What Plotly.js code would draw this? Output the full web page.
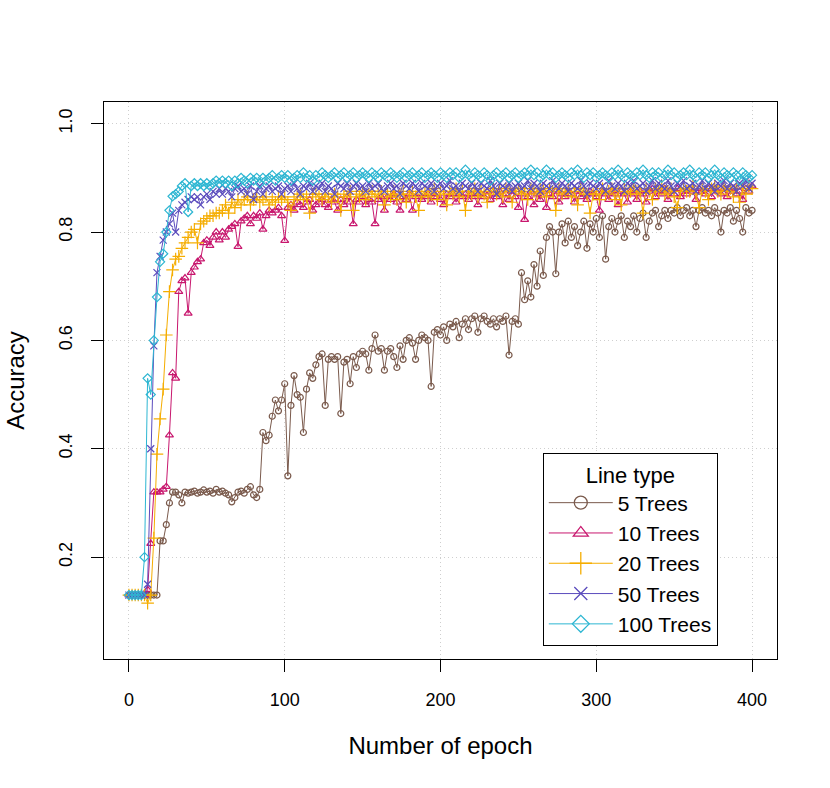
<!DOCTYPE html>
<html>
<head>
<meta charset="utf-8">
<script src="https://cdn.plot.ly/plotly-3.0.1.min.js"></script>
<style>
  html, body { margin: 0; padding: 0; background: #fff; }
  #chart { width: 830px; height: 788px; }
</style>
</head>
<body>
<div id="chart"></div>
<script>
// accuracy sampled every 2 epochs (0, 2, ..., 400)
const epochs = Array.from({ length: 201 }, (_, i) => i * 2);

const seriesNames = ['5 Trees', '10 Trees', '20 Trees', '50 Trees', '100 Trees'];

const acc5 = [
  0.13,0.13,0.13,0.13,0.13,0.13,0.13,0.13,0.13,0.13,
  0.23,0.23,0.26,0.30,0.32,0.32,0.315,0.30,0.32,0.318,
  0.32,0.322,0.318,0.32,0.324,0.32,0.322,0.318,0.325,0.32,
  0.322,0.318,0.315,0.302,0.31,0.32,0.322,0.318,0.325,0.33,
  0.315,0.31,0.325,0.43,0.415,0.425,0.46,0.49,0.47,0.49,
  0.52,0.35,0.48,0.535,0.50,0.495,0.43,0.51,0.54,0.53,
  0.555,0.57,0.575,0.48,0.565,0.57,0.565,0.57,0.465,0.56,
  0.565,0.52,0.57,0.55,0.575,0.58,0.575,0.545,0.585,0.61,
  0.58,0.585,0.545,0.58,0.585,0.57,0.55,0.59,0.565,0.60,
  0.605,0.595,0.565,0.60,0.61,0.605,0.60,0.515,0.615,0.62,
  0.61,0.625,0.60,0.63,0.625,0.635,0.605,0.63,0.64,0.62,
  0.64,0.645,0.615,0.64,0.645,0.635,0.63,0.64,0.625,0.64,
  0.635,0.645,0.573,0.635,0.64,0.63,0.725,0.675,0.71,0.68,
  0.74,0.70,0.765,0.72,0.79,0.81,0.80,0.723,0.80,0.815,
  0.78,0.82,0.79,0.81,0.775,0.80,0.82,0.77,0.815,0.80,
  0.825,0.79,0.83,0.75,0.81,0.825,0.80,0.82,0.83,0.79,
  0.82,0.81,0.83,0.80,0.825,0.835,0.79,0.82,0.835,0.84,
  0.81,0.83,0.84,0.825,0.84,0.835,0.845,0.83,0.84,0.845,
  0.83,0.84,0.81,0.84,0.845,0.835,0.84,0.83,0.845,0.835,
  0.80,0.84,0.835,0.845,0.82,0.84,0.825,0.80,0.845,0.835,
  0.84
];

const acc10 = [
  0.13,0.13,0.13,0.13,0.13,0.13,0.14,0.225,0.32,0.32,
  0.32,0.325,0.33,0.425,0.54,0.53,0.69,0.71,0.715,0.65,
  0.725,0.735,0.745,0.75,0.78,0.785,0.775,0.79,0.80,0.785,
  0.80,0.79,0.805,0.81,0.815,0.773,0.82,0.825,0.83,0.815,
  0.83,0.825,0.835,0.805,0.83,0.84,0.835,0.84,0.845,0.83,
  0.784,0.845,0.85,0.84,0.855,0.85,0.845,0.855,0.86,0.84,
  0.85,0.855,0.86,0.85,0.845,0.86,0.855,0.84,0.86,0.85,
  0.865,0.855,0.815,0.86,0.855,0.865,0.85,0.86,0.855,0.815,
  0.86,0.865,0.84,0.865,0.86,0.87,0.855,0.84,0.865,0.86,
  0.87,0.84,0.865,0.87,0.86,0.865,0.87,0.855,0.865,0.87,
  0.86,0.85,0.87,0.865,0.87,0.855,0.87,0.865,0.87,0.86,
  0.87,0.865,0.85,0.87,0.865,0.875,0.86,0.87,0.865,0.875,
  0.85,0.87,0.86,0.875,0.865,0.845,0.87,0.823,0.865,0.875,
  0.85,0.87,0.86,0.875,0.845,0.87,0.865,0.875,0.855,0.87,
  0.865,0.875,0.87,0.855,0.875,0.865,0.87,0.86,0.875,0.87,
  0.865,0.84,0.875,0.87,0.86,0.875,0.87,0.85,0.875,0.87,
  0.855,0.875,0.87,0.86,0.875,0.87,0.855,0.875,0.88,0.865,
  0.875,0.87,0.88,0.86,0.875,0.87,0.88,0.865,0.875,0.87,
  0.88,0.875,0.86,0.88,0.875,0.87,0.88,0.865,0.88,0.875,
  0.87,0.88,0.865,0.875,0.88,0.87,0.875,0.86,0.88,0.875,
  0.885
];

const acc20 = [
  0.13,0.13,0.13,0.13,0.13,0.13,0.115,0.13,0.235,0.39,
  0.455,0.51,0.61,0.69,0.73,0.75,0.755,0.77,0.78,0.79,
  0.80,0.805,0.78,0.815,0.82,0.825,0.83,0.83,0.835,0.835,
  0.84,0.85,0.835,0.855,0.845,0.86,0.85,0.86,0.865,0.85,
  0.86,0.865,0.855,0.86,0.865,0.85,0.86,0.855,0.865,0.86,
  0.865,0.855,0.84,0.86,0.865,0.87,0.86,0.865,0.835,0.87,
  0.87,0.865,0.86,0.87,0.865,0.855,0.87,0.865,0.84,0.87,
  0.865,0.875,0.84,0.87,0.865,0.875,0.86,0.87,0.875,0.865,
  0.87,0.875,0.85,0.87,0.865,0.875,0.86,0.87,0.875,0.855,
  0.87,0.875,0.865,0.84,0.87,0.875,0.865,0.87,0.88,0.86,
  0.875,0.87,0.85,0.875,0.87,0.88,0.865,0.875,0.84,0.875,
  0.87,0.88,0.865,0.875,0.87,0.855,0.875,0.88,0.87,0.875,
  0.865,0.88,0.875,0.855,0.875,0.88,0.87,0.875,0.86,0.88,
  0.875,0.87,0.88,0.875,0.865,0.88,0.875,0.84,0.88,0.87,
  0.875,0.88,0.865,0.875,0.85,0.88,0.875,0.87,0.835,0.87,
  0.875,0.86,0.88,0.87,0.875,0.88,0.86,0.875,0.85,0.88,
  0.87,0.875,0.885,0.87,0.875,0.835,0.88,0.875,0.86,0.88,
  0.875,0.885,0.87,0.875,0.88,0.865,0.845,0.875,0.88,0.875,
  0.875,0.885,0.87,0.845,0.88,0.875,0.86,0.88,0.885,0.875,
  0.87,0.885,0.875,0.88,0.865,0.885,0.855,0.88,0.87,0.885,
  0.88
];

const acc50 = [
  0.13,0.13,0.13,0.13,0.13,0.13,0.15,0.40,0.59,0.725,
  0.755,0.785,0.80,0.815,0.835,0.80,0.84,0.85,0.855,0.86,
  0.865,0.86,0.865,0.85,0.865,0.87,0.86,0.875,0.87,0.88,
  0.87,0.88,0.875,0.865,0.88,0.885,0.875,0.88,0.87,0.885,
  0.86,0.875,0.885,0.87,0.88,0.885,0.875,0.88,0.885,0.87,
  0.88,0.885,0.875,0.89,0.88,0.87,0.885,0.88,0.89,0.875,
  0.885,0.88,0.89,0.875,0.885,0.88,0.87,0.89,0.885,0.88,
  0.89,0.875,0.885,0.89,0.88,0.885,0.875,0.89,0.88,0.885,
  0.89,0.88,0.875,0.885,0.89,0.88,0.885,0.87,0.89,0.885,
  0.88,0.89,0.885,0.875,0.89,0.885,0.88,0.89,0.875,0.885,
  0.89,0.88,0.885,0.895,0.88,0.885,0.875,0.89,0.885,0.88,
  0.89,0.885,0.875,0.89,0.885,0.88,0.895,0.885,0.87,0.89,
  0.885,0.88,0.89,0.875,0.885,0.89,0.88,0.885,0.895,0.88,
  0.89,0.885,0.875,0.89,0.885,0.88,0.895,0.885,0.88,0.89,
  0.885,0.875,0.89,0.885,0.88,0.895,0.885,0.87,0.89,0.885,
  0.88,0.89,0.885,0.875,0.895,0.885,0.88,0.89,0.885,0.875,
  0.89,0.885,0.895,0.88,0.885,0.89,0.875,0.885,0.895,0.88,
  0.89,0.885,0.88,0.895,0.885,0.875,0.89,0.885,0.895,0.88,
  0.885,0.89,0.875,0.885,0.895,0.88,0.89,0.885,0.875,0.89,
  0.885,0.895,0.88,0.89,0.885,0.875,0.89,0.885,0.895,0.88,
  0.89
];

const acc100 = [
  0.13,0.13,0.13,0.13,0.13,0.20,0.53,0.50,0.60,0.68,
  0.745,0.76,0.80,0.84,0.866,0.87,0.875,0.885,0.89,0.837,
  0.885,0.89,0.885,0.89,0.885,0.89,0.885,0.89,0.895,0.89,
  0.895,0.89,0.895,0.885,0.895,0.89,0.90,0.895,0.89,0.90,
  0.895,0.90,0.89,0.90,0.895,0.90,0.905,0.895,0.90,0.905,
  0.90,0.905,0.895,0.90,0.905,0.90,0.91,0.90,0.905,0.895,
  0.905,0.90,0.91,0.905,0.90,0.905,0.91,0.90,0.905,0.91,
  0.90,0.905,0.91,0.90,0.905,0.91,0.905,0.90,0.91,0.905,
  0.90,0.91,0.905,0.90,0.91,0.905,0.90,0.905,0.91,0.90,
  0.905,0.91,0.90,0.905,0.91,0.90,0.905,0.91,0.905,0.90,
  0.91,0.905,0.90,0.91,0.905,0.91,0.90,0.905,0.915,0.905,
  0.90,0.91,0.905,0.90,0.91,0.905,0.895,0.905,0.91,0.90,
  0.905,0.91,0.90,0.905,0.91,0.90,0.905,0.91,0.905,0.915,
  0.905,0.91,0.90,0.905,0.915,0.905,0.91,0.90,0.905,0.91,
  0.905,0.90,0.91,0.905,0.915,0.905,0.90,0.91,0.905,0.91,
  0.90,0.905,0.91,0.905,0.90,0.91,0.905,0.915,0.905,0.90,
  0.91,0.905,0.90,0.91,0.905,0.915,0.905,0.90,0.91,0.905,
  0.91,0.90,0.905,0.915,0.905,0.91,0.90,0.905,0.91,0.905,
  0.915,0.905,0.90,0.91,0.905,0.91,0.90,0.905,0.915,0.905,
  0.90,0.91,0.905,0.90,0.91,0.905,0.895,0.91,0.905,0.90,
  0.905
];

const xTicks = [0, 100, 200, 300, 400];
const yTicks = [0.2, 0.4, 0.6, 0.8, 1.0];
const yTickText = ['0.2', '0.4', '0.6', '0.8', '1.0'];

const FONT = 'Liberation Sans, Arial, Helvetica, sans-serif';

const styles = [
  { color: '#7a5a4c', symbol: 'circle-open', size: 6 },
  { color: '#c8176e', symbol: 'triangle-up-open', size: 7 },
  { color: '#f5ad00', symbol: 'cross-thin-open', size: 9 },
  { color: '#5b4cbd', symbol: 'x-thin-open', size: 7 },
  { color: '#2db6d2', symbol: 'diamond-open', size: 7 },
];

const allSeries = [acc5, acc10, acc20, acc50, acc100];

// the data lines
const traces = allSeries.map((vals, i) => ({
  x: epochs,
  y: vals,
  name: seriesNames[i],
  type: 'scatter',
  mode: 'lines+markers',
  showlegend: false,
  line: { color: styles[i].color, width: 1 },
  marker: {
    symbol: styles[i].symbol,
    size: styles[i].size,
    color: styles[i].color,
    line: { color: styles[i].color, width: 1.2 },
  },
}));

// legend keys only (no data), with bigger symbols like the R legend
const legendKeys = seriesNames.map((name, i) => ({
  x: [null],
  y: [null],
  name: name,
  type: 'scatter',
  mode: 'lines+markers',
  line: { color: styles[i].color, width: 1 },
  marker: {
    symbol: styles[i].symbol,
    size: i === 2 ? 18 : 13,
    color: styles[i].color,
    line: { color: styles[i].color, width: 1.3 },
  },
}));

const axisCommon = {
  showline: true,
  mirror: true,
  linecolor: '#000',
  linewidth: 1,
  ticks: 'outside',
  ticklen: 12,
  tickwidth: 1,
  tickcolor: '#000',
  showgrid: true,
  gridcolor: '#cfcfcf',
  griddash: '1px,3px',
  gridwidth: 1,
  zeroline: false,
  tickfont: { family: FONT, size: 18, color: '#000' },
};

const layout = {
  width: 830,
  height: 788,
  paper_bgcolor: '#fff',
  plot_bgcolor: '#fff',
  margin: { l: 104, r: 53, t: 102, b: 129 },
  font: { family: FONT, color: '#000' },
  xaxis: {
    ...axisCommon,
    range: [-16, 416],
    tickvals: xTicks,
    ticklabelstandoff: 12,
    title: { text: 'Number of epoch', font: { family: FONT, size: 24 }, standoff: 28 },
    automargin: true,
  },
  yaxis: {
    ...axisCommon,
    range: [0.012, 1.04],
    tickvals: yTicks,
    ticktext: yTickText,
    tickangle: -90,
    ticklabelstandoff: 12,
    title: { text: 'Accuracy', font: { family: FONT, size: 24 }, standoff: 24 },
    automargin: true,
  },
  showlegend: true,
  legend: {
    x: 0.652,
    y: 0.37,
    xanchor: 'left',
    yanchor: 'top',
    bgcolor: '#fff',
    bordercolor: '#000',
    borderwidth: 1,
    font: { family: FONT, size: 21, color: '#000' },
    title: { text: 'Line type', side: 'top center', font: { family: FONT, size: 22 } },
    itemwidth: 64,
    tracegroupgap: 0,
  },
};

Plotly.newPlot('chart', traces.concat(legendKeys), layout, { staticPlot: true, displayModeBar: false });
</script>
</body>
</html>
